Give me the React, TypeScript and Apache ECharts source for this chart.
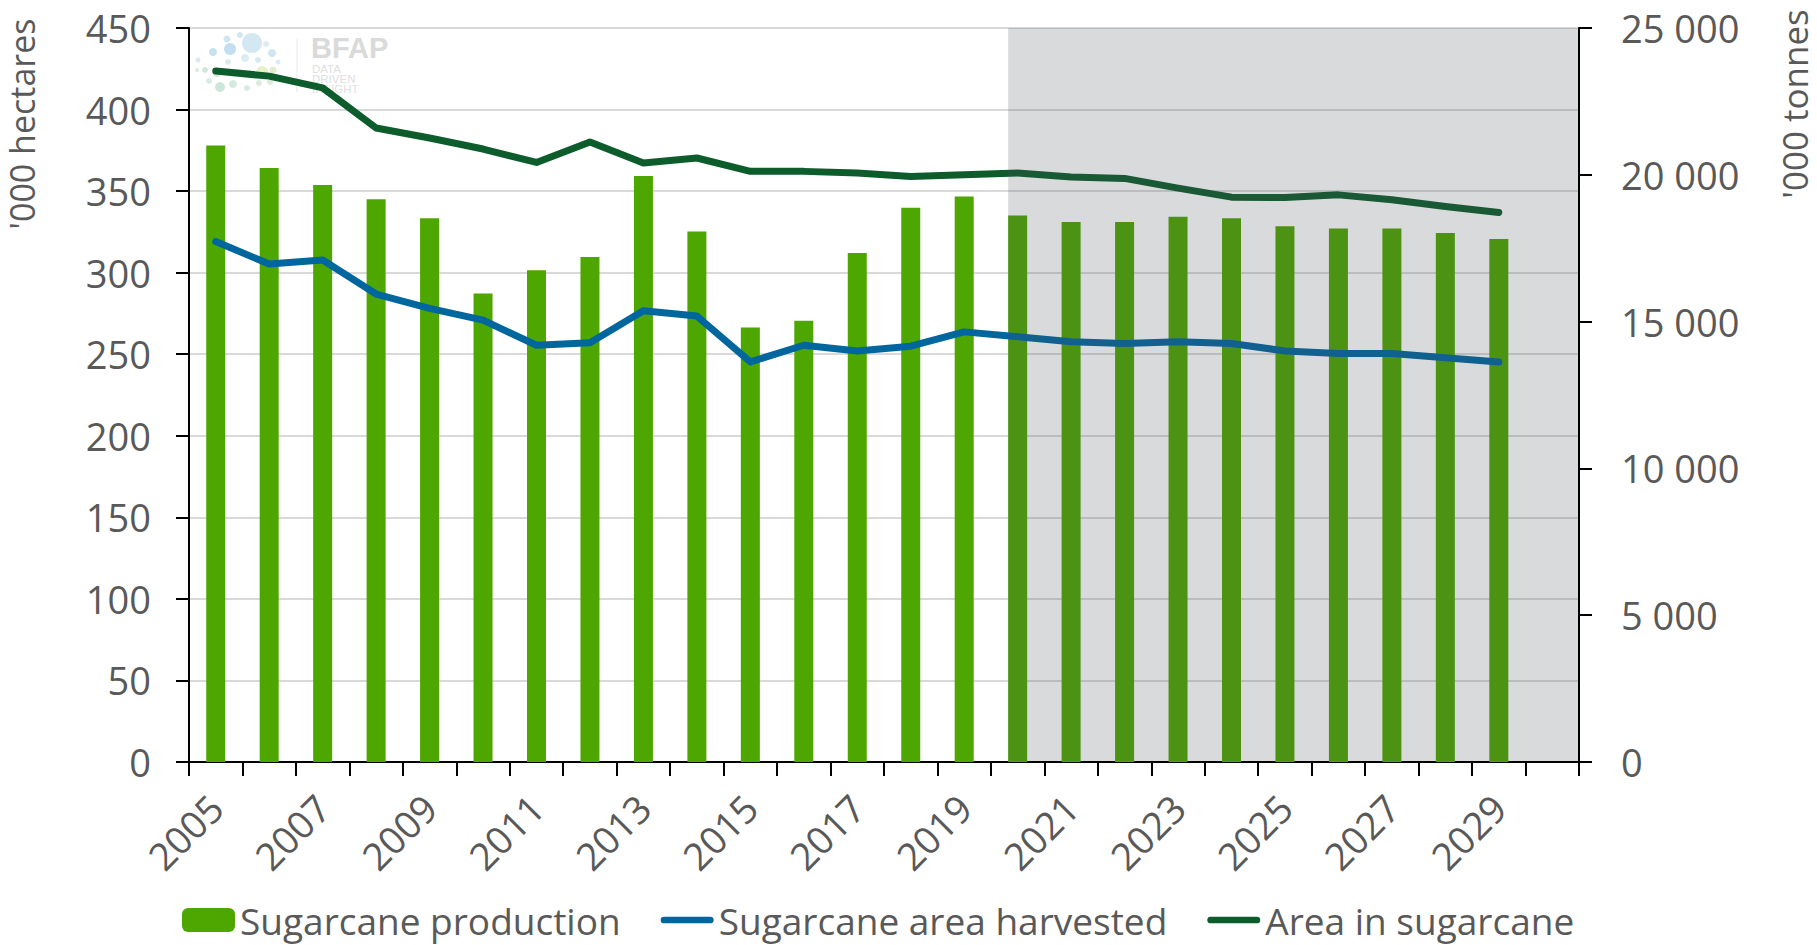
import React, { useEffect, useRef } from 'react';
import * as echarts from 'echarts';

const years = ['2005', '2006', '2007', '2008', '2009', '2010', '2011', '2012', '2013', '2014', '2015', '2016', '2017', '2018', '2019', '2020', '2021', '2022', '2023', '2024', '2025', '2026', '2027', '2028', '2029', '2030'];

// '000 tonnes (right axis)
const production = [21000, 20230, 19650, 19170, 18520, 15960, 16750, 17200, 19960, 18070, 14800, 15030, 17340, 18880, 19260, 18610, 18390, 18390, 18570, 18520, 18250, 18170, 18170, 18020, 17810, null];

// '000 hectares (left axis)
const areaHarvested = [319.1, 305.3, 307.8, 286.9, 278.1, 270.9, 255.5, 257.0, 276.6, 273.4, 245.3, 255.5, 252.0, 254.9, 263.7, 260.7, 257.6, 256.6, 257.6, 256.6, 252.0, 250.4, 250.4, 247.9, 245.3, null];
const areaTotal = [423.6, 420.5, 413.3, 388.7, 382.6, 375.8, 367.6, 380.1, 367.2, 370.3, 362.1, 362.1, 361.1, 359.0, 360.0, 361.1, 358.6, 357.8, 351.8, 346.3, 346.1, 347.7, 344.7, 340.6, 336.9, null];

const seriesNames = ['Sugarcane production', 'Sugarcane area harvested', 'Area in sugarcane'];
const leftAxis = { min: 0, max: 450, interval: 50, name: "'000 hectares" };
const rightAxis = { min: 0, max: 25000, interval: 5000, name: "'000 tonnes" };
const forecastStart = '2020';

const FONT = '"Open Sans", "Liberation Sans", sans-serif';
const TEXT = '#595959';
const BAR_W = 19;
const LINE_ICON = 'path://M3.5,0H51.5A3.5,3.5,0,0,1,51.5,7H3.5A3.5,3.5,0,0,1,3.5,0Z';

const logoDots: [number, number, number, string][] = [
  [252, 43, 10, '#d3e8f3'], [230, 49, 6, '#c3def0'], [227, 39, 3.5, '#cfe5f2'], [240, 35, 3, '#cfe5f2'],
  [213, 52, 4, '#c8e1f0'], [198, 60, 2.5, '#d6eaf4'], [272, 53, 4, '#cfe5f2'], [266, 44, 3, '#d9ecf5'],
  [205, 70, 3, '#cfe8dc'], [197, 70, 2, '#d6ece2'], [217, 73, 4, '#cfe8dc'], [220, 87, 5, '#cde6da'],
  [233, 84, 4, '#d3eadf'], [247, 88, 3, '#d6ece2'], [262, 72, 6, '#e6f1c8'], [273, 70, 3.5, '#e1eecb'],
  [270, 82, 3, '#dcebd9'], [259, 83, 3, '#dcebd9'], [240, 73, 3, '#e3f0dc'], [209, 81, 3, '#d6ece2'],
  [245, 58, 4, '#dcecf4'], [258, 60, 3, '#d6eaf4'], [278, 62, 2.5, '#dcecf4'], [228, 62, 3, '#d9ebe6'],
];

function fmtThousands(v: number) {
  return String(v).replace(/\B(?=(\d{3})+(?!\d))/g, ' ');
}

export default function App() {
  const ref = useRef<HTMLDivElement>(null);
  useEffect(() => {
    const chart = echarts.init(ref.current!, null, { renderer: 'svg' });
    const logo: any[] = logoDots.map((d, i) => ({
      type: 'circle', id: 'dot' + i, z: 1, silent: true,
      shape: { cx: d[0], cy: d[1], r: d[2] }, style: { fill: d[3] },
    }));
    logo.push(
      { type: 'line', id: 'logoLine', z: 1, silent: true, shape: { x1: 297, y1: 39, x2: 297, y2: 92 }, style: { stroke: '#e8e8e8', lineWidth: 1 } },
      { type: 'text', id: 'logoT', z: 1, silent: true, x: 311, y: 48, style: { text: 'BFAP', fontFamily: '"Liberation Sans", Arial, sans-serif', fontWeight: 'bold', fontSize: 29, lineHeight: 26, verticalAlign: 'middle', fill: '#dadada' } },
      { type: 'text', id: 'logoS', z: 1, silent: true, x: 312, y: 64, style: { text: 'DATA\nDRIVEN\nINSIGHT', fontFamily: '"Liberation Sans", Arial, sans-serif', fontSize: 11.5, lineHeight: 9.8, fill: '#e0e0e0' } },
    );
    const option: any = {
      animation: false,
      backgroundColor: '#ffffff',
      textStyle: { fontFamily: FONT },
      grid: { left: 189, right: 238, top: 28, bottom: 183, containLabel: false },
      legend: {
        data: [
          { name: seriesNames[0] },
          { name: seriesNames[1], icon: LINE_ICON, itemStyle: { color: '#00669e', borderWidth: 0 } },
          { name: seriesNames[2], icon: LINE_ICON, itemStyle: { color: '#0d5c2c', borderWidth: 0 } },
        ],
        left: 182,
        top: 900,
        padding: 0,
        itemWidth: 53,
        itemHeight: 24,
        itemGap: 40,
        symbolKeepAspect: true,
        textStyle: { fontSize: 37, lineHeight: 40, color: TEXT, fontFamily: FONT },
      },
      xAxis: {
        type: 'category',
        data: years,
        boundaryGap: true,
        axisLine: { lineStyle: { color: '#000', width: 2 } },
        axisTick: { show: true, interval: 0, length: 14, lineStyle: { color: '#000', width: 2 } },
        axisLabel: { interval: 1, rotate: 45, fontSize: 38, color: TEXT, fontFamily: FONT, margin: 39 },
        splitLine: { show: false },
      },
      yAxis: [
        {
          type: 'value', min: leftAxis.min, max: leftAxis.max, interval: leftAxis.interval,
          axisLine: { show: true, lineStyle: { color: '#000', width: 2 } },
          axisTick: { show: true, length: 13, lineStyle: { color: '#000', width: 2 } },
          axisLabel: { fontSize: 38, color: TEXT, fontFamily: FONT, margin: 38 },
          splitLine: { show: true, lineStyle: { color: '#d9d9d9', width: 2 } },
        },
        {
          type: 'value', position: 'right', min: rightAxis.min, max: rightAxis.max, interval: rightAxis.interval,
          axisLine: { show: true, lineStyle: { color: '#000', width: 2 } },
          axisTick: { show: true, length: 13, lineStyle: { color: '#000', width: 2 } },
          axisLabel: { fontSize: 38, color: TEXT, fontFamily: FONT, margin: 42, formatter: (v: number) => fmtThousands(v) },
          splitLine: { show: false },
        },
      ],
      series: [
        {
          name: seriesNames[0], type: 'bar', yAxisIndex: 1, data: production, barWidth: BAR_W,
          itemStyle: { color: '#4ea600' }, z: 2,
        },
        {
          name: seriesNames[1], type: 'line', yAxisIndex: 0, data: areaHarvested, symbol: 'none',
          lineStyle: { color: '#00669e', width: 7, cap: 'round', join: 'round' }, itemStyle: { color: '#00669e' }, z: 3,
        },
        {
          name: seriesNames[2], type: 'line', yAxisIndex: 0, data: areaTotal, symbol: 'none',
          lineStyle: { color: '#0d5c2c', width: 7, cap: 'round', join: 'round' }, itemStyle: { color: '#0d5c2c' }, z: 3,
        },
      ],
      graphic: [
        ...logo,
        { type: 'text', id: 'yNameL', silent: true, x: 22, y: 124, rotation: Math.PI / 2, style: { text: leftAxis.name, fontFamily: FONT, fontSize: 34, lineHeight: 36, fill: TEXT, align: 'center', verticalAlign: 'middle' } },
        { type: 'text', id: 'yNameR', silent: true, x: 1794, y: 104, rotation: Math.PI / 2, style: { text: rightAxis.name, fontFamily: FONT, fontSize: 35, lineHeight: 36, fill: TEXT, align: 'center', verticalAlign: 'middle' } },
      ],
    };
    chart.setOption(option);

    const i0 = years.indexOf(forecastStart);
    const xa = chart.convertToPixel({ xAxisIndex: 0 }, i0) as number;
    const xb = chart.convertToPixel({ xAxisIndex: 0 }, i0 + 1) as number;
    const xl = chart.convertToPixel({ xAxisIndex: 0 }, years.length - 1) as number;
    const slot = xb - xa;
    const yTop = chart.convertToPixel({ yAxisIndex: 0 }, leftAxis.max) as number;
    const yBot = chart.convertToPixel({ yAxisIndex: 0 }, leftAxis.min) as number;
    const x0 = xa - BAR_W / 2;
    const x1 = xl + slot / 2 - 1;
    chart.setOption({
      graphic: [
        {
          type: 'rect', id: 'forecast', silent: true, z: 100,
          shape: { x: x0, y: yTop, width: x1 - x0, height: yBot - yTop - 1 },
          style: { fill: 'rgba(74,79,88,0.21)' },
        },
      ],
    });
    return () => chart.dispose();
  }, []);
  return <div ref={ref} style={{ position: 'fixed', left: 0, top: 0, width: 1817, height: 945 }} />;
}
